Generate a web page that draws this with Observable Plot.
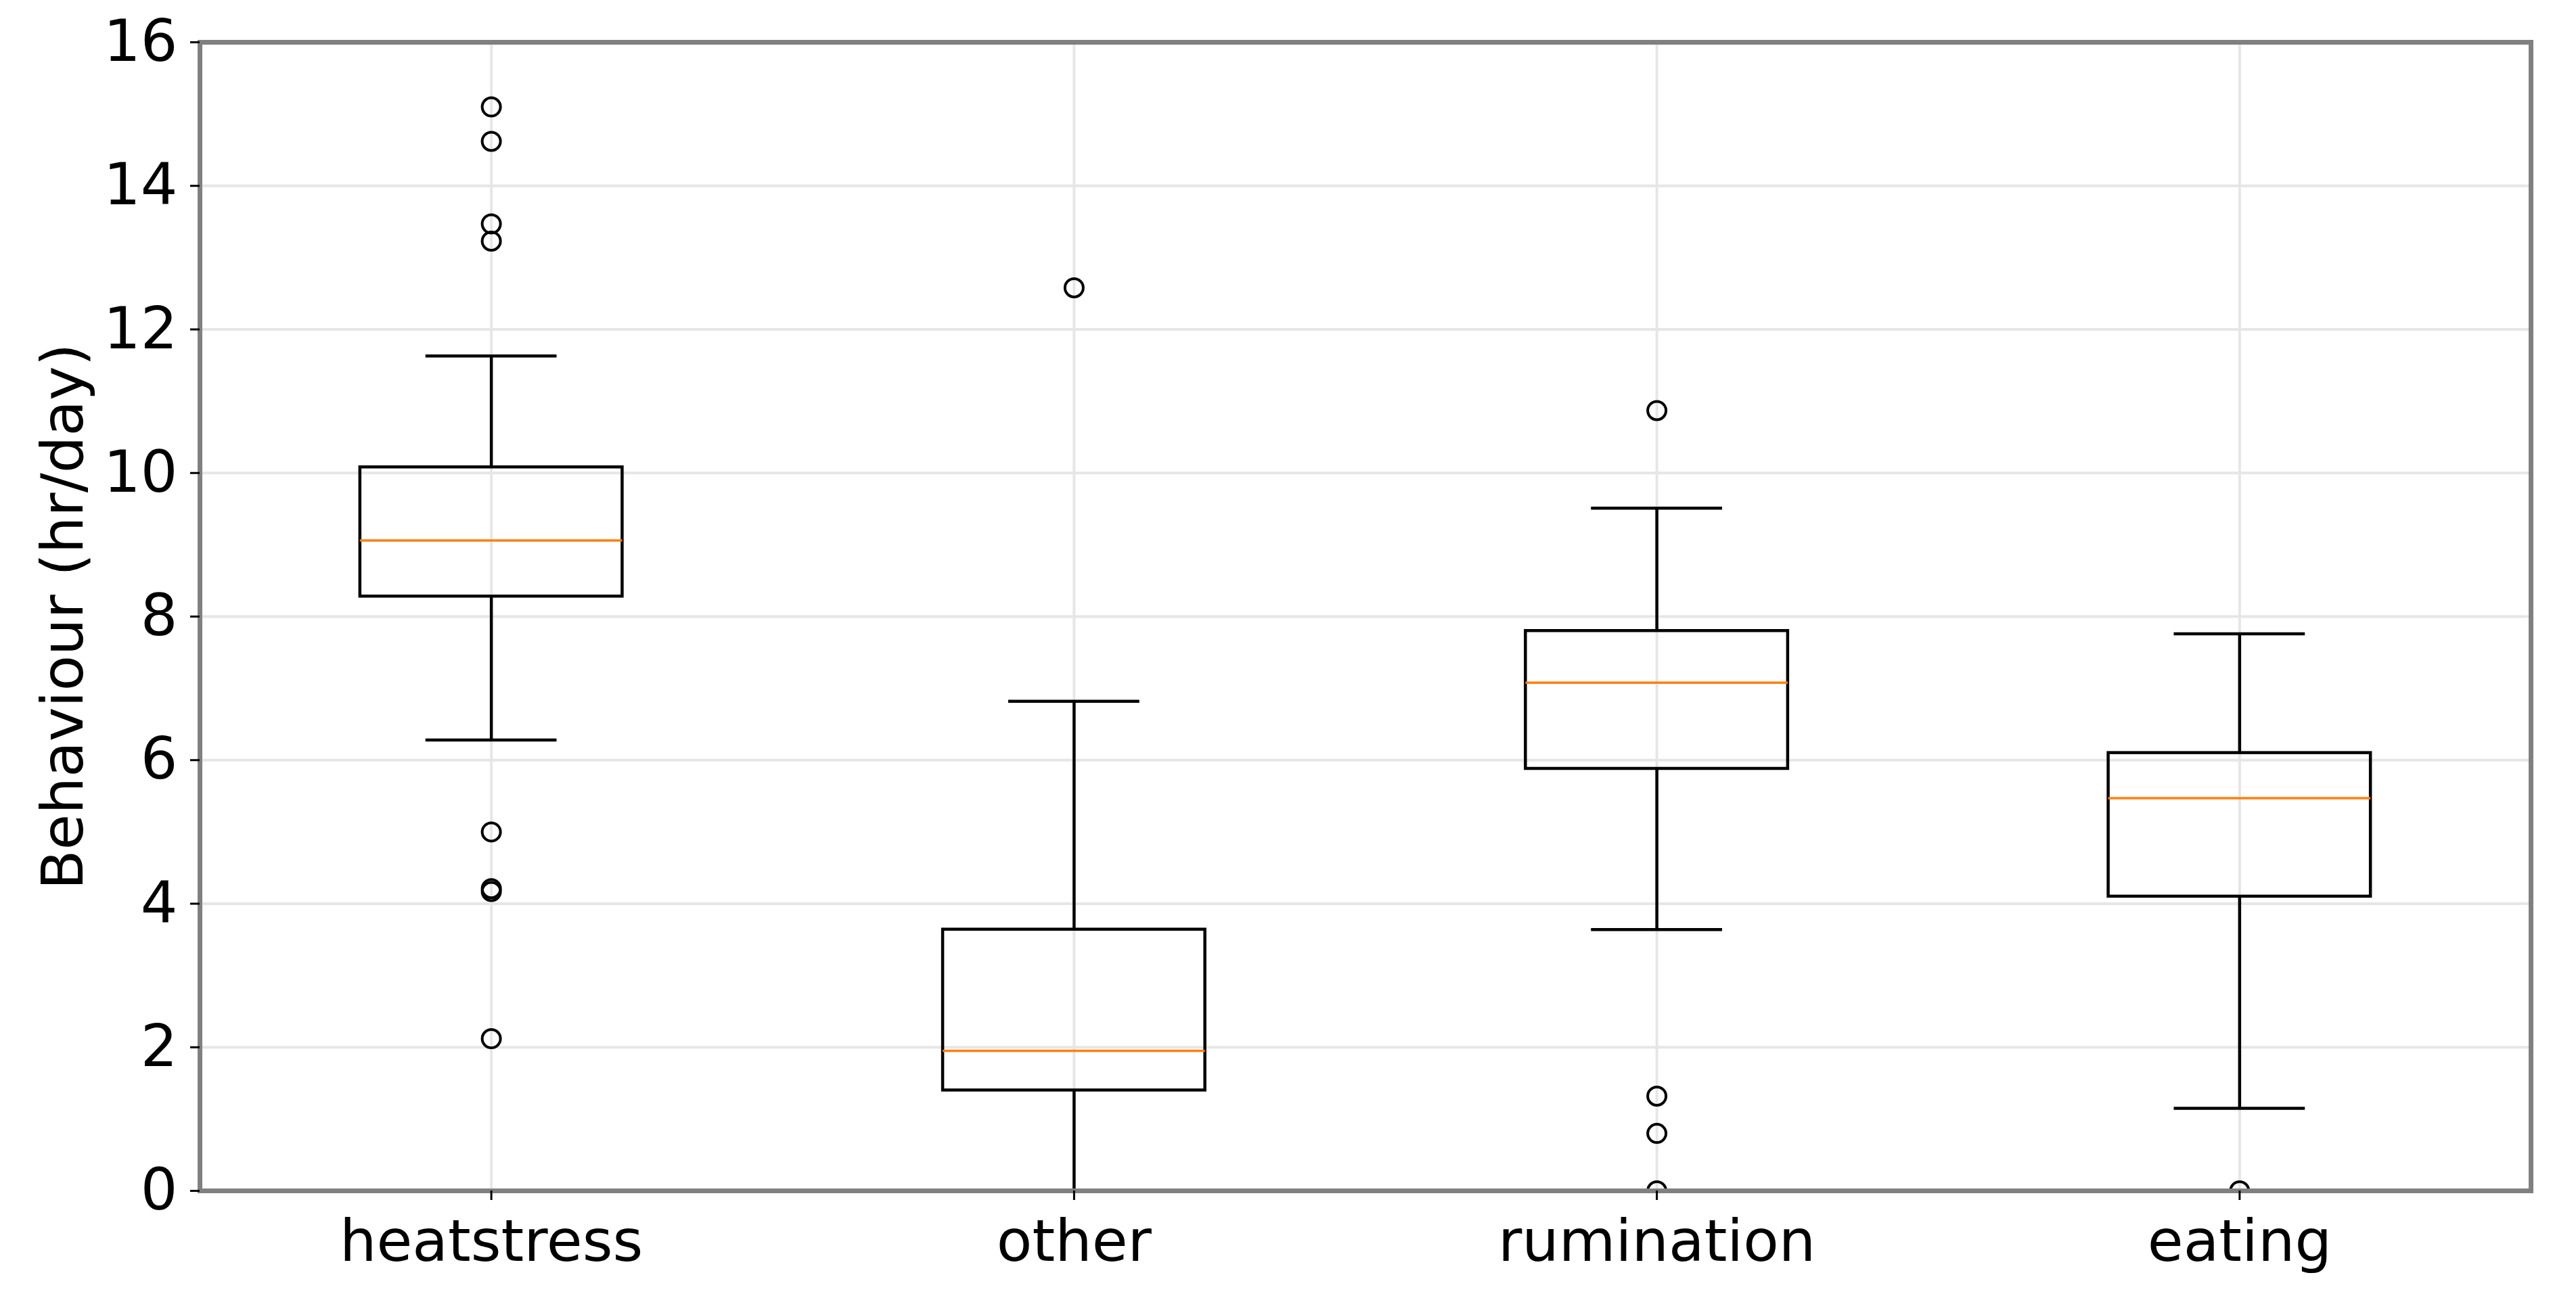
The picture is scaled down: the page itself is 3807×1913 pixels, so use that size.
<!DOCTYPE html>
<html><head><meta charset="utf-8">
<script src="https://cdn.jsdelivr.net/npm/d3@7"></script>
<script src="https://cdn.jsdelivr.net/npm/@observablehq/plot@0.6"></script>
<style>html,body{margin:0;padding:0;background:#fff;}</style>
</head><body><div id="chart"></div>
<script>
const categories = ["heatstress", "other", "rumination", "eating"];
const whiskerLow = [6.28, 0.0, 3.64, 1.15];
const q1 = [8.28, 1.40, 5.88, 4.10];
const median = [9.06, 1.95, 7.08, 5.47];
const q3 = [10.08, 3.64, 7.80, 6.10];
const whiskerHigh = [11.63, 6.82, 9.51, 7.76];
const outliers = [
  [15.10, 14.62, 13.47, 13.23, 5.00, 4.21, 4.17, 2.12],
  [12.58],
  [10.87, 1.32, 0.80, 0.0],
  [0.0]
];
const yTicks = [0, 2, 4, 6, 8, 10, 12, 14, 16];
const yLabel = "Behaviour (hr/day)";

const positions = categories.map((d, i) => i + 1);
const boxes = categories.map((c, i) => ({
  pos: i + 1, low: whiskerLow[i], q1: q1[i], med: median[i], q3: q3[i], high: whiskerHigh[i]
}));
const outlierRows = categories.flatMap((c, i) => outliers[i].map(v => ({pos: i + 1, value: v})));
const boxHalf = 0.225, capHalf = 0.1125;
const lineStyle = {stroke: "black", strokeWidth: 4.5};
const gridStyle = {stroke: "#e6e6e6", strokeOpacity: 1, strokeWidth: 4};

const chart = Plot.plot({
  width: 3807, height: 1913,
  marginLeft: 295, marginRight: 67, marginTop: 62, marginBottom: 153,
  style: {fontFamily: "DejaVu Sans", fontSize: "86px", background: "white", color: "black"},
  x: {domain: [0.5, 4.5]},
  y: {domain: [0, 16]},
  marks: [
    Plot.gridY({ticks: yTicks, ...gridStyle}),
    Plot.gridX({ticks: positions, ...gridStyle}),
    Plot.ruleX(boxes, {x: "pos", y1: "low", y2: "q1", ...lineStyle}),
    Plot.ruleX(boxes, {x: "pos", y1: "q3", y2: "high", ...lineStyle}),
    Plot.ruleY(boxes, {y: "low", x1: d => d.pos - capHalf, x2: d => d.pos + capHalf, ...lineStyle}),
    Plot.ruleY(boxes, {y: "high", x1: d => d.pos - capHalf, x2: d => d.pos + capHalf, ...lineStyle}),
    Plot.rect(boxes, {x1: d => d.pos - boxHalf, x2: d => d.pos + boxHalf, y1: "q1", y2: "q3", fill: "none", ...lineStyle}),
    Plot.ruleY(boxes, {y: "med", x1: d => d.pos - boxHalf, x2: d => d.pos + boxHalf, stroke: "#ff7f0e", strokeWidth: 3.5}),
    Plot.dot(outlierRows, {x: "pos", y: "value", r: 13.5, stroke: "black", strokeWidth: 4, fill: "none", clip: true}),
    Plot.frame({stroke: "#808080", strokeWidth: 7}),
    Plot.axisY({ticks: yTicks, tickSize: 14, tickPadding: 19, fontSize: 86, label: null, stroke: "black", strokeWidth: 3}),
    Plot.axisX({ticks: positions, tickFormat: i => categories[i - 1], tickSize: 14, tickPadding: 28, fontSize: 86, label: null, stroke: "black", strokeWidth: 3}),
    Plot.text([yLabel], {frameAnchor: "left", textAnchor: "middle", lineAnchor: "middle", dx: -201, rotate: -90, fontSize: 86, fill: "black", text: d => d})
  ]
});
document.getElementById("chart").appendChild(chart);
</script>
</body></html>
